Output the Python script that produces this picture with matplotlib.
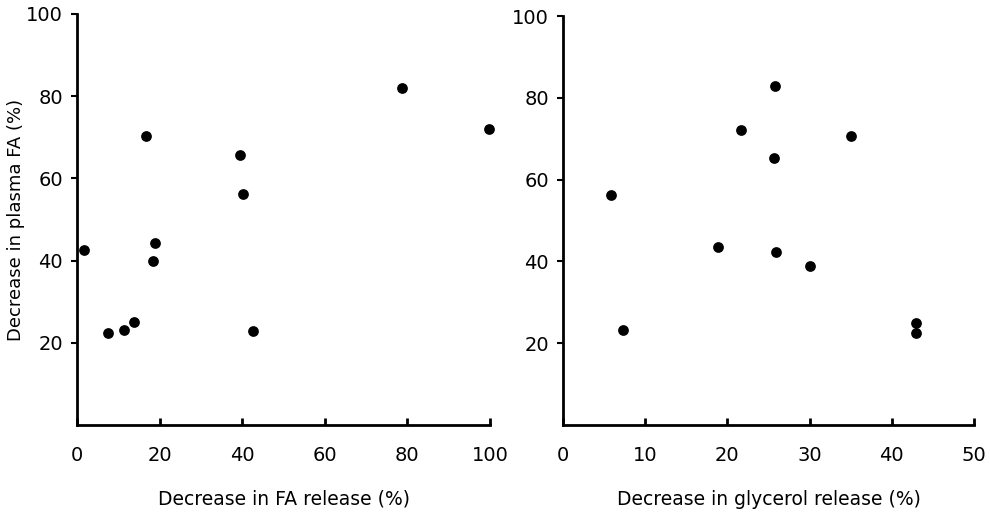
import matplotlib
matplotlib.use("Agg")
import matplotlib.pyplot as plt

plt.rcParams["font.family"] = ["DejaVu Sans"]

# left panel: decrease in FA release vs decrease in plasma FA
fa_release = [1.6, 7.5, 11.3, 13.9, 16.8, 18.4, 19.0, 39.5, 40.1, 42.6, 78.6, 99.8]
fa_plasma_l = [42.5, 22.5, 23.1, 25.0, 70.2, 40.0, 44.3, 65.6, 56.2, 22.9, 82.1, 71.9]

# right panel: decrease in glycerol release vs decrease in plasma FA
gly_release = [5.9, 7.3, 18.9, 21.7, 25.8, 25.7, 25.9, 30.0, 35.0, 43.0, 43.0]
fa_plasma_r = [56.2, 23.2, 43.5, 72.1, 83.0, 65.4, 42.2, 38.9, 70.6, 24.9, 22.4]

fa_ticks = [0, 20, 40, 60, 80, 100]
gly_ticks = [0, 10, 20, 30, 40, 50]
y_ticks = [20, 40, 60, 80, 100]

fig = plt.figure(figsize=(9.9, 5.14), dpi=100)
ax1 = fig.add_axes([77 / 990, 89 / 514, 413 / 990, 411 / 514])
ax2 = fig.add_axes([563 / 990, 89 / 514, 411 / 990, 409 / 514])

panels = [
    (ax1, fa_release, fa_plasma_l, fa_ticks, "Decrease in FA release (%)"),
    (ax2, gly_release, fa_plasma_r, gly_ticks, "Decrease in glycerol release (%)"),
]

for ax, xs, ys, xt, xlabel in panels:
    ax.scatter(xs, ys, s=60, color="black", zorder=3, clip_on=False, linewidths=0)
    ax.set_xlim(xt[0], xt[-1])
    ax.set_ylim(0, 100)
    ax.set_xticks(xt)
    ax.set_yticks(y_ticks)
    ax.spines["top"].set_visible(False)
    ax.spines["right"].set_visible(False)
    for s in ["left", "bottom"]:
        ax.spines[s].set_linewidth(2)
    ax.tick_params(axis="x", direction="in", length=5, width=2, pad=15, labelsize=14)
    ax.tick_params(axis="y", direction="out", length=4, width=1.5, pad=6, labelsize=14)
    ax.set_xlabel(xlabel, fontsize=13.5, labelpad=18)

ax1.set_ylabel("Decrease in plasma FA (%)", fontsize=13)
# y label sits in the narrow strip left of the tick labels
ax1.yaxis.set_label_coords(-0.126, 0.5)

fig.savefig("out.png", dpi=100)
